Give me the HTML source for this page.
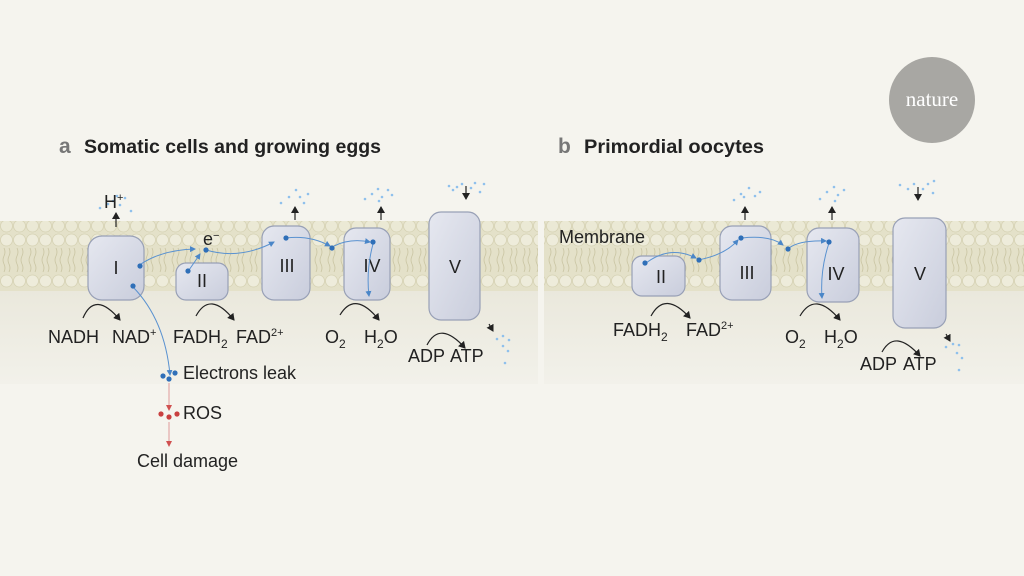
<!DOCTYPE html>
<html><head><meta charset="utf-8"><style>
html,body{margin:0;padding:0;background:#f5f4ee;}
svg{display:block}
text{font-family:"Liberation Sans",sans-serif;fill:#222;}
</style></head><body>
<svg width="1024" height="576" viewBox="0 0 1024 576" xmlns="http://www.w3.org/2000/svg">
<defs>
<pattern id="lip" x="0" y="221" width="13" height="80" patternUnits="userSpaceOnUse">
  <rect width="13" height="80" fill="#e4e1c9"/>
  <circle cx="6.5" cy="5" r="6" fill="#ebe9d5" stroke="#d6d2b4" stroke-width="0.8"/>
  <circle cx="6.5" cy="19" r="6" fill="#eeecdb" stroke="#d6d2b4" stroke-width="0.8"/>
  <path d="M4 27 q2 4 0 8 q-2 4 0 8 q2 4 0 8 M9 27 q2 4 0 8 q-2 4 0 8 q2 4 0 8" stroke="#c9c4a2" stroke-width="0.8" fill="none"/>
  <circle cx="6.5" cy="60" r="6" fill="#eeecdb" stroke="#d6d2b4" stroke-width="0.8"/>
</pattern>
<linearGradient id="sh" x1="0" y1="0" x2="0" y2="1"><stop offset="0" stop-color="#eae8dc"/><stop offset="1" stop-color="#f2f1ea"/></linearGradient>
<linearGradient id="pr" x1="0" y1="0" x2="1" y2="1"><stop offset="0" stop-color="#e6e8f0"/><stop offset="1" stop-color="#c9cddc"/></linearGradient>
<marker id="ak" markerWidth="8" markerHeight="8" refX="6" refY="4" orient="auto" markerUnits="userSpaceOnUse"><path d="M0,0 L7,4 L0,8 Z" fill="#222"/></marker>
<marker id="ab" markerWidth="6" markerHeight="6" refX="5" refY="3" orient="auto" markerUnits="userSpaceOnUse"><path d="M0,0 L6,3 L0,6 Z" fill="#4a86c8"/></marker>
<marker id="ar" markerWidth="6" markerHeight="6" refX="5" refY="3" orient="auto" markerUnits="userSpaceOnUse"><path d="M0,0 L6,3 L0,6 Z" fill="#d05050"/></marker>
</defs>
<rect x="0" y="289" width="538" height="95" fill="url(#sh)"/>
<rect x="544" y="289" width="480" height="95" fill="url(#sh)"/>
<rect x="0" y="221" width="538" height="70" fill="url(#lip)"/>
<rect x="544" y="221" width="480" height="70" fill="url(#lip)"/>

<circle cx="932" cy="100" r="43" fill="#a8a7a3"/>
<text x="932" y="106" text-anchor="middle" style="font-family:'Liberation Serif',serif;font-size:21px;fill:#fff">nature</text>

<text x="59" y="153" style="font-size:21px;font-weight:bold;fill:#777">a</text>
<text x="84" y="153" textLength="297" lengthAdjust="spacingAndGlyphs" style="font-size:19.5px;font-weight:bold">Somatic cells and growing eggs</text>
<text x="558" y="153" style="font-size:21px;font-weight:bold;fill:#777">b</text>
<text x="584" y="153" textLength="180" lengthAdjust="spacingAndGlyphs" style="font-size:19.5px;font-weight:bold">Primordial oocytes</text>

<g fill="url(#pr)" stroke="#98a0b6" stroke-width="1.2">
<rect x="88" y="236" width="56" height="64" rx="14"/>
<rect x="176" y="263" width="52" height="37" rx="10"/>
<rect x="262" y="226" width="48" height="74" rx="12"/>
<rect x="344" y="228" width="46" height="72" rx="12"/>
<rect x="429" y="212" width="51" height="108" rx="12"/>
<rect x="632" y="256" width="53" height="40" rx="10"/>
<rect x="720" y="226" width="51" height="74" rx="12"/>
<rect x="807" y="228" width="52" height="74" rx="12"/>
<rect x="893" y="218" width="53" height="110" rx="12"/>
</g>
<g style="font-size:18px" text-anchor="middle">
<text x="116" y="274">I</text><text x="202" y="287">II</text><text x="287" y="272">III</text><text x="372" y="272">IV</text><text x="455" y="273">V</text>
<text x="661" y="283">II</text><text x="747" y="279">III</text><text x="836" y="280">IV</text><text x="920" y="280">V</text>
</g>

<g fill="none" stroke="#5a92d0" stroke-width="1" marker-end="url(#ab)">
<path d="M138 266 Q160 250 195 249"/>
<path d="M189 270 Q196 260 200 254"/>
<path d="M206 250 Q240 260 274 242"/>
<path d="M286 238 Q310 235 330 246"/>
<path d="M334 246 Q350 238 370 242"/>
<path d="M373 244 Q366 270 369 296"/>
<path d="M133 287 Q165 320 170 375"/>
<path d="M646 263 Q670 245 696 258"/>
<path d="M698 260 Q725 255 738 240"/>
<path d="M742 238 Q770 235 783 245"/>
<path d="M789 248 Q800 240 826 241"/>
<path d="M829 243 Q820 270 822 298"/>
</g>
<g fill="#2f6fb8">
<circle cx="140" cy="266" r="2.6"/><circle cx="133" cy="286" r="2.6"/><circle cx="188" cy="271" r="2.6"/><circle cx="206" cy="250" r="2.6"/><circle cx="286" cy="238" r="2.6"/><circle cx="332" cy="248" r="2.6"/><circle cx="373" cy="242" r="2.6"/>
<circle cx="645" cy="263" r="2.6"/><circle cx="699" cy="260" r="2.6"/><circle cx="741" cy="238" r="2.6"/><circle cx="788" cy="249" r="2.6"/><circle cx="829" cy="242" r="2.6"/>
<circle cx="163" cy="376" r="2.6"/><circle cx="169" cy="379" r="2.6"/><circle cx="175" cy="373" r="2.6"/>
</g>
<g fill="#c94040"><circle cx="161" cy="414" r="2.6"/><circle cx="169" cy="417" r="2.6"/><circle cx="177" cy="414" r="2.6"/></g>
<g stroke="#e09a9a" stroke-width="1" marker-end="url(#ar)"><line x1="169" y1="383" x2="169" y2="410"/><line x1="169" y1="422" x2="169" y2="446"/></g>

<g stroke="#222" stroke-width="1.2" marker-end="url(#ak)">
<line x1="116" y1="227" x2="116" y2="213"/><line x1="295" y1="220" x2="295" y2="207"/><line x1="381" y1="220" x2="381" y2="207"/><line x1="466" y1="186" x2="466" y2="199"/>
<line x1="745" y1="220" x2="745" y2="207"/><line x1="832" y1="220" x2="832" y2="207"/><line x1="918" y1="187" x2="918" y2="200"/>
<line x1="489" y1="324" x2="493" y2="331"/><line x1="946" y1="334" x2="950" y2="341"/>
</g>
<g fill="#8fc0ec">
<circle cx="100" cy="208" r="1.3"/><circle cx="108" cy="204" r="1.3"/><circle cx="113" cy="201" r="1.3"/><circle cx="120" cy="205" r="1.3"/><circle cx="125" cy="198" r="1.3"/><circle cx="131" cy="211" r="1.3"/><circle cx="117" cy="196" r="1.3"/>
<circle cx="281" cy="203" r="1.3"/><circle cx="289" cy="197" r="1.3"/><circle cx="296" cy="190" r="1.3"/><circle cx="300" cy="197" r="1.3"/><circle cx="304" cy="203" r="1.3"/><circle cx="308" cy="194" r="1.3"/>
<circle cx="365" cy="199" r="1.3"/><circle cx="372" cy="194" r="1.3"/><circle cx="378" cy="189" r="1.3"/><circle cx="382" cy="197" r="1.3"/><circle cx="388" cy="190" r="1.3"/><circle cx="392" cy="195" r="1.3"/><circle cx="379" cy="201" r="1.3"/>
<circle cx="449" cy="186" r="1.3"/><circle cx="457" cy="187" r="1.3"/><circle cx="462" cy="184" r="1.3"/><circle cx="471" cy="188" r="1.3"/><circle cx="475" cy="183" r="1.3"/><circle cx="484" cy="184" r="1.3"/><circle cx="480" cy="192" r="1.3"/><circle cx="453" cy="190" r="1.3"/>
<circle cx="497" cy="339" r="1.3"/><circle cx="503" cy="336" r="1.3"/><circle cx="509" cy="340" r="1.3"/><circle cx="503" cy="346" r="1.3"/><circle cx="508" cy="351" r="1.3"/><circle cx="505" cy="363" r="1.3"/>
<circle cx="734" cy="200" r="1.3"/><circle cx="741" cy="194" r="1.3"/><circle cx="749" cy="188" r="1.3"/><circle cx="755" cy="196" r="1.3"/><circle cx="760" cy="192" r="1.3"/><circle cx="744" cy="197" r="1.3"/>
<circle cx="820" cy="199" r="1.3"/><circle cx="827" cy="192" r="1.3"/><circle cx="834" cy="187" r="1.3"/><circle cx="838" cy="195" r="1.3"/><circle cx="844" cy="190" r="1.3"/><circle cx="835" cy="201" r="1.3"/>
<circle cx="900" cy="185" r="1.3"/><circle cx="908" cy="189" r="1.3"/><circle cx="914" cy="184" r="1.3"/><circle cx="923" cy="189" r="1.3"/><circle cx="928" cy="184" r="1.3"/><circle cx="934" cy="181" r="1.3"/><circle cx="933" cy="193" r="1.3"/>
<circle cx="946" cy="347" r="1.3"/><circle cx="953" cy="344" r="1.3"/><circle cx="959" cy="345" r="1.3"/><circle cx="957" cy="353" r="1.3"/><circle cx="962" cy="358" r="1.3"/><circle cx="959" cy="370" r="1.3"/>
</g>

<g fill="none" stroke="#222" stroke-width="1.2" marker-end="url(#ak)">
<path d="M83 318 Q95 290 120 320"/>
<path d="M196 316 Q210 290 234 320"/>
<path d="M340 315 Q355 290 379 320"/>
<path d="M427 345 Q440 320 465 348"/>
<path d="M651 316 Q665 290 690 318"/>
<path d="M800 316 Q815 290 840 320"/>
<path d="M882 352 Q895 328 920 356"/>
</g>

<g style="font-size:18px">
<text x="104" y="208">H<tspan dy="-7" style="font-size:11px">+</tspan></text>
<text x="203" y="245">e<tspan dy="-6" style="font-size:11px">−</tspan></text>
<text x="48" y="343">NADH</text><text x="112" y="343">NAD<tspan dy="-7" style="font-size:11px">+</tspan></text>
<text x="173" y="343">FADH<tspan dy="5" style="font-size:12px">2</tspan></text><text x="236" y="343">FAD<tspan dy="-7" style="font-size:11px">2+</tspan></text>
<text x="325" y="343">O<tspan dy="5" style="font-size:12px">2</tspan></text><text x="364" y="343">H<tspan dy="5" style="font-size:12px">2</tspan><tspan dy="-5">O</tspan></text>
<text x="408" y="362">ADP</text><text x="450" y="362">ATP</text>
<text x="183" y="379">Electrons leak</text>
<text x="183" y="419">ROS</text>
<text x="137" y="467">Cell damage</text>
<text x="559" y="243">Membrane</text>
<text x="613" y="336">FADH<tspan dy="5" style="font-size:12px">2</tspan></text><text x="686" y="336">FAD<tspan dy="-7" style="font-size:11px">2+</tspan></text>
<text x="785" y="343">O<tspan dy="5" style="font-size:12px">2</tspan></text><text x="824" y="343">H<tspan dy="5" style="font-size:12px">2</tspan><tspan dy="-5">O</tspan></text>
<text x="860" y="370">ADP</text><text x="903" y="370">ATP</text>
</g>
</svg>
</body></html>
